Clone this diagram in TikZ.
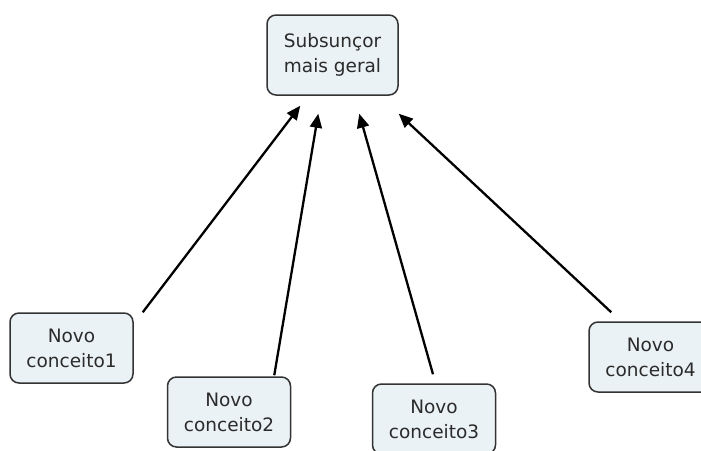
\documentclass[tikz,border=0pt]{standalone}
\usepackage{fontspec}
\setmainfont{DejaVu Sans}
\usetikzlibrary{arrows.meta,positioning}
\definecolor{boxfill}{HTML}{EAF2F5}
\definecolor{boxline}{HTML}{333333}
\definecolor{boxtext}{HTML}{2B2B2B}

\begin{document}
\begin{tikzpicture}[x=1pt, y=-1pt,
  conc/.style={draw=boxline, fill=boxfill, rounded corners=9pt, line width=1.5pt, minimum height=70pt, minimum width=123pt, font=\fontsize{18.5}{25}\selectfont, text=boxtext, align=center, inner sep=2pt},
  arr/.style={-{Triangle[length=14pt, width=12pt]}, line width=2.3pt}]
  \useasboundingbox (0,0) rectangle (701,450);
  \node[conc, minimum width=131pt, minimum height=80pt] (top) at (332.5,55) {Subsunçor\\mais geral};
  \node[conc] (n1) at (71.5,348)  {Novo\\conceito1};
  \node[conc] (n2) at (229,412)   {Novo\\conceito2};
  \node[conc] (n3) at (434,419)   {Novo\\conceito3};
  \node[conc] (n4) at (650.5,357) {Novo\\conceito4};
  \draw[arr] ([shift={(9,0)}]n1.north east) -- ([shift={(34,10)}]top.south west);
  \draw[arr] ([shift={(-17,-1)}]n2.north east) -- ([shift={(52,18)}]top.south west);
  \draw[arr] ([shift={(-1,-9)}]n3.north) -- ([shift={(93,18)}]top.south west);
  \draw[arr] ([shift={(23,-9)}]n4.north west) -- ([shift={(0,18)}]top.south east);
\end{tikzpicture}
\end{document}
